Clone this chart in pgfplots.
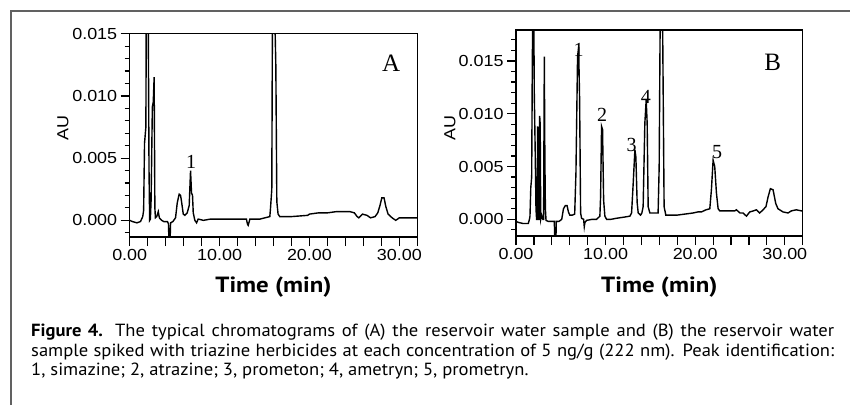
\documentclass[border=0pt]{standalone}
\usepackage{pgfplots}
\pgfplotsset{compat=1.18}
\usepackage{fontspec}
\setmainfont{Liberation Serif}
\newfontfamily\tickfont[FakeStretch=1.12]{Liberation Sans}
\newfontfamily\capfont[FakeStretch=1.055]{PT Sans}
\newfontfamily\labfont[FakeStretch=1.13]{PT Sans}
\pgfplotsset{chrom/.style={
  scale only axis,
  axis line style={line width=1.3pt},
  xmin=0, xmax=32,
  xtick={0,2,4,6,8,10,12,14,16,18,20,22,24,26,28,30,32},
  xticklabels={0.00,,,,,10.00,,,,,20.00,,,,,30.00,},
  tick align=outside, xtick pos=bottom, ytick pos=left,
  major tick length=9pt, minor tick length=5pt,
  every tick/.style={black, line width=1.2pt},
  ytick={0,0.005,0.010,0.015},
  minor ytick={-0.001,0.001,0.002,0.003,0.004,0.006,0.007,0.008,0.009,0.011,0.012,0.013,0.014,0.016,0.017},
  scaled y ticks=false,
  yticklabel style={/pgf/number format/fixed, /pgf/number format/fixed zerofill, /pgf/number format/precision=3, /pgf/number format/assume math mode=true},
  tick label style={font=\fontsize{16}{16}\tickfont},
  xlabel={Time (min)}, ylabel={AU},
}}
\begin{document}
\begin{tikzpicture}[x=1pt,y=1pt]
\path[use as bounding box] (0,0) rectangle (850,405);
\draw[line width=1.5pt, color=black!62] (11,0) -- (11,394) -- (850,394);

% Panel A
\begin{axis}[chrom, at={(129.7pt,168pt)}, anchor=south west,
  width=287.6pt, height=203.3pt, ymin=-0.00134, ymax=0.015,
  every axis y label/.style={at={(rel axis cs:-0.232,0.536)}, rotate=90, anchor=center, font=\fontsize{16}{16}\tickfont},
  every axis x label/.style={at={(rel axis cs:0.5,-0.272)}, anchor=base, font=\fontsize{22}{22}\labfont\bfseries}]
\addplot[black, line width=1.4pt, mark=none] coordinates {
(0,0.0000)(0.3,-0.0001)(0.8,-0.0002)(1.2,-0.0001)(1.45,0.0003)(1.55,0.0008)(1.65,0.0062)(1.80,0.0075)(1.85,0.018)(2.05,0.018)(2.15,0.0040)(2.22,0.0000)(2.30,0.0001)(2.38,0.0016)(2.52,0.0091)(2.62,0.0095)(2.72,0.0115)(2.80,0.0010)(2.86,0.0002)(3.0,0.0003)(3.18,0.0007)(3.3,0.0002)(3.55,0.0000)(3.8,-0.0001)(4.2,-0.0001)(4.32,-0.0003)(4.37,-0.0020)(4.48,-0.0020)(4.55,-0.0002)(4.8,-0.0001)(5.1,0.0002)(5.29,0.0014)(5.44,0.0019)(5.51,0.0021)(5.66,0.0020)(5.77,0.0015)(5.96,0.0005)(6.14,0.0004)(6.40,0.0006)(6.62,0.0012)(6.77,0.0040)(6.88,0.0022)(6.99,0.0020)(7.07,0.0006)(7.25,0.0000)(7.44,-0.0002)(7.62,0.0001)(8.2,0.0000)(9.0,0.0001)(10.5,0.0001)(12.0,0.0001)(12.99,0.0001)(13.10,-0.0003)(13.18,-0.0004)(13.30,-0.0001)(13.37,0.0001)(14.5,0.0001)(15.59,0.0003)(15.67,0.0010)(15.81,0.0025)(15.89,0.018)(16.10,0.018)(16.26,0.0124)(16.37,0.0015)(16.51,0.0005)(16.70,0.0003)(18.0,0.0003)(19.8,0.0004)(20.0,0.0005)(21.0,0.0006)(22.0,0.0006)(23.0,0.0007)(24.5,0.0007)(25.0,0.0006)(25.3,0.0003)(25.5,0.0002)(25.9,0.0005)(26.4,0.0004)(26.8,0.0002)(27.3,0.0003)(27.6,0.0006)(27.85,0.0012)(28.05,0.0018)(28.3,0.0018)(28.5,0.0011)(28.75,0.0005)(29.2,0.0002)(29.6,0.0000)(30.0,0.0002)(30.7,0.0002)(31.5,0.0002)(32,0.0002)
};
\node[font=\fontsize{20}{20}\selectfont] at (axis cs:6.83,0.0047) {1};
\node[font=\fontsize{25}{25}\selectfont] at (axis cs:29.1,0.01265) {A};
\end{axis}

% Panel B
\begin{axis}[chrom, at={(516pt,169pt)}, anchor=south west,
  width=286.7pt, height=206pt, ymin=-0.00158, ymax=0.01793,
  every axis y label/.style={at={(rel axis cs:-0.230,0.524)}, rotate=90, anchor=center, font=\fontsize{16}{16}\tickfont},
  every axis x label/.style={at={(rel axis cs:0.5,-0.273)}, anchor=base, font=\fontsize{22}{22}\labfont\bfseries}]
\addplot[black, line width=1.4pt, mark=none] coordinates {
(0.0,-0.0002)(0.3,-0.0003)(0.8,-0.0004)(1.37,-0.0004)(1.5,0.0000)(1.56,0.0003)(1.65,0.0030)(1.75,0.0040)(1.82,0.0148)(1.88,0.020)(1.98,0.020)(2.04,0.0120)(2.15,0.0060)(2.23,0.0010)(2.30,0.0000)(2.36,0.0000)(2.42,0.0088)(2.47,0.0085)(2.52,0.0000)(2.58,0.0000)(2.64,0.0098)(2.70,0.0090)(2.76,0.0000)(2.86,0.0004)(3.00,0.0000)(3.08,0.0000)(3.16,0.0154)(3.22,0.0060)(3.28,0.0010)(3.35,-0.0001)(3.6,-0.0002)(4.0,-0.0002)(4.28,-0.0002)(4.32,-0.0020)(4.45,-0.0020)(4.5,-0.0002)(4.8,-0.0002)(5.1,0.0000)(5.3,0.0010)(5.5,0.0013)(5.7,0.0013)(5.85,0.0007)(6.0,0.0004)(6.3,0.0004)(6.55,0.0005)(6.69,0.0044)(6.87,0.0154)(6.99,0.0163)(7.10,0.0113)(7.21,0.0006)(7.32,0.0001)(7.55,0.0000)(7.62,-0.0007)(7.69,-0.0003)(7.88,-0.0001)(8.5,0.0000)(9.0,0.0000)(9.36,0.0003)(9.44,0.0021)(9.55,0.0088)(9.66,0.0085)(9.78,0.0018)(9.92,0.0003)(10.11,0.0000)(10.6,0.0000)(11.22,0.0001)(12.0,0.0002)(12.71,0.0003)(12.90,0.0006)(13.08,0.0034)(13.27,0.0066)(13.38,0.0059)(13.52,0.0016)(13.64,0.0006)(13.90,0.0004)(14.05,0.0006)(14.19,0.0012)(14.38,0.0091)(14.53,0.0113)(14.64,0.0091)(14.75,0.0012)(14.94,0.0006)(15.5,0.0006)(15.86,0.0006)(15.98,0.0050)(16.10,0.020)(16.35,0.020)(16.53,0.0012)(16.72,0.0004)(18.0,0.0004)(19.77,0.0006)(20.3,0.0007)(20.70,0.0007)(21.2,0.0009)(21.63,0.0010)(21.81,0.0028)(22.00,0.0056)(22.18,0.0050)(22.37,0.0025)(22.56,0.0010)(22.74,0.0008)(23.5,0.0008)(24.41,0.0008)(24.60,0.0009)(25.0,0.0006)(25.34,0.0006)(25.72,0.0003)(26.09,0.0007)(26.5,0.0008)(26.83,0.0009)(27.20,0.0006)(27.57,0.0009)(27.9,0.0012)(28.13,0.0021)(28.39,0.0029)(28.69,0.0028)(28.99,0.0015)(29.24,0.0010)(29.80,0.0007)(30.36,0.0006)(30.73,0.0008)(31.29,0.0009)(31.85,0.0008)(32,0.0008)
};
\node[font=\fontsize{20}{20}\selectfont] at (axis cs:6.99,0.0160) {1};
\node[font=\fontsize{20}{20}\selectfont] at (axis cs:9.62,0.00988) {2};
\node[font=\fontsize{20}{20}\selectfont] at (axis cs:12.9,0.00704) {3};
\node[font=\fontsize{20}{20}\selectfont] at (axis cs:14.49,0.0116) {4};
\node[font=\fontsize{20}{20}\selectfont] at (axis cs:22.44,0.0064) {5};
\node[font=\fontsize{25}{25}\selectfont] at (axis cs:28.65,0.0149) {B};
\end{axis}

\node[anchor=base west, inner sep=0pt] at (31,68.3) {\parbox[t]{803pt}{\fontsize{17.6}{19.5}\capfont\hyphenpenalty=10000 {\bfseries Figure 4.} The typical chromatograms of (A) the reservoir water sample and (B) the reservoir water\linebreak sample spiked with triazine herbicides at each concentration of 5 ng/g (222 nm). Peak identification:\linebreak 1, simazine; 2, atrazine; 3, prometon; 4, ametryn; 5, prometryn.}};
\end{tikzpicture}
\end{document}
